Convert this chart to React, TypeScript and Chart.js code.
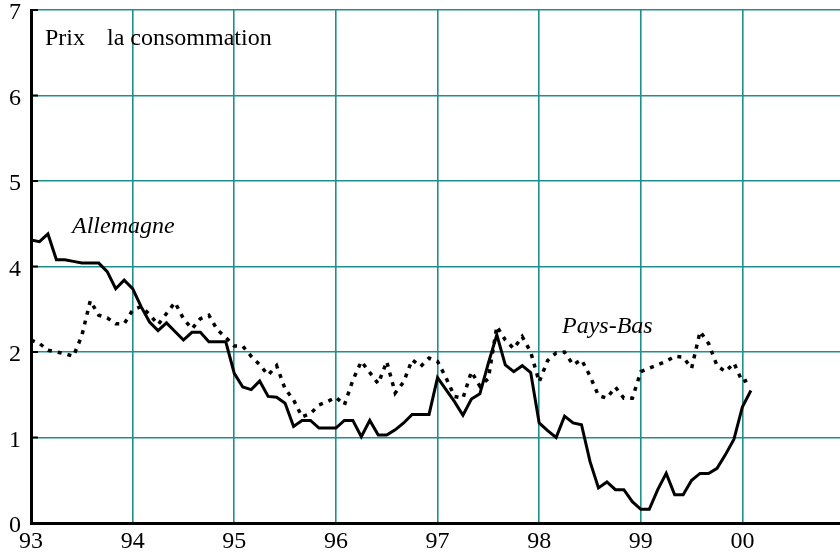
import React, { useEffect, useRef } from "react";
import { Chart, registerables } from "chart.js";

Chart.register(...registerables);

// Monthly series, January 1993 to February 2000 (values on the chart's own vertical grid units)
const startYear = 93;
const allemagne = [
  3.31, 3.29, 3.38, 3.08, 3.08, 3.06, 3.04, 3.04, 3.04, 2.94, 2.74, 2.84,
  2.74, 2.53, 2.35, 2.25, 2.34, 2.24, 2.14, 2.23, 2.23, 2.12, 2.12, 2.12,
  1.75, 1.59, 1.56, 1.66, 1.48, 1.47, 1.40, 1.13, 1.20, 1.20, 1.11, 1.11,
  1.11, 1.20, 1.20, 1.01, 1.20, 1.03, 1.03, 1.09, 1.17, 1.27, 1.27, 1.27,
  1.70, 1.56, 1.42, 1.26, 1.45, 1.51, 1.87, 2.20, 1.85, 1.77, 1.84, 1.76,
  1.17, 1.08, 1.00, 1.25, 1.17, 1.15, 0.72, 0.41, 0.48, 0.39, 0.39, 0.25,
  0.16, 0.16, 0.39, 0.58, 0.33, 0.33, 0.50, 0.58, 0.58, 0.64, 0.80, 0.98,
  1.36, 1.55,
];
const paysBas = [
  2.14, 2.10, 2.02, 2.00, 1.98, 1.95, 2.19, 2.60, 2.43, 2.40, 2.33, 2.33,
  2.49, 2.53, 2.44, 2.32, 2.45, 2.58, 2.39, 2.27, 2.39, 2.43, 2.26, 2.17,
  2.07, 2.07, 1.95, 1.85, 1.73, 1.84, 1.57, 1.44, 1.24, 1.28, 1.38, 1.42,
  1.47, 1.38, 1.67, 1.89, 1.76, 1.63, 1.89, 1.52, 1.65, 1.91, 1.83, 1.93,
  1.89, 1.70, 1.48, 1.46, 1.77, 1.60, 1.69, 2.30, 2.14, 2.04, 2.18, 2.00,
  1.65, 1.90, 1.99, 2.00, 1.85, 1.91, 1.72, 1.49, 1.46, 1.59, 1.46, 1.46,
  1.77, 1.81, 1.85, 1.89, 1.95, 1.94, 1.81, 2.24, 2.10, 1.84, 1.77, 1.87,
  1.65, 1.69,
];
const xTickValues = [93, 94, 95, 96, 97, 98, 99, 100];
const xTickLabels = ["93", "94", "95", "96", "97", "98", "99", "00"];
const yTickLabels = ["0", "1", "2", "4", "5", "6", "7"];
const titleWords = ["Prix", "la consommation"];
const seriesNames = ["Allemagne", "Pays-Bas"];

const TEAL = "#1f8f8b";
const SERIF = "'Liberation Serif', 'Times New Roman', serif";

const annotate = {
  id: "annotate",
  afterDraw(chart: any) {
    const ctx = chart.ctx;
    const y = chart.scales.y;
    const area = chart.chartArea;
    ctx.save();
    // small black inner ticks on the vertical axis
    ctx.strokeStyle = "#000";
    ctx.lineWidth = 2;
    y.ticks.forEach((t: any) => {
      const py = y.getPixelForValue(t.value);
      ctx.beginPath();
      ctx.moveTo(area.left, py);
      ctx.lineTo(area.left + 7, py);
      ctx.stroke();
    });
    ctx.fillStyle = "#000";
    ctx.textBaseline = "alphabetic";
    ctx.textAlign = "left";
    ctx.font = `24px ${SERIF}`;
    ctx.fillText(titleWords[0], 45, 45);
    ctx.fillText(titleWords[1], 107, 45);
    ctx.font = `italic 24px ${SERIF}`;
    ctx.fillText(seriesNames[0], 72, 233);
    ctx.fillText(seriesNames[1], 562, 333);
    ctx.restore();
  },
};

export default function App() {
  const ref = useRef<HTMLCanvasElement | null>(null);
  useEffect(() => {
    if (!ref.current) return;
    const toPts = (arr: number[]) => arr.map((v, i) => ({ x: startYear + i / 12, y: v }));
    const chart = new Chart(ref.current, {
      type: "line",
      data: {
        datasets: [
          {
            label: seriesNames[1],
            data: toPts(paysBas),
            borderColor: "#000",
            borderWidth: 3.5,
            borderDash: [4, 6],
            pointRadius: 0,
            tension: 0,
            fill: false,
          },
          {
            label: seriesNames[0],
            data: toPts(allemagne),
            borderColor: "#000",
            borderWidth: 3,
            pointRadius: 0,
            tension: 0,
            fill: false,
          },
        ],
      },
      options: {
        animation: false,
        responsive: false,
        events: [],
        layout: { padding: { top: 10, right: 0, left: 0, bottom: 0 } },
        plugins: { legend: { display: false }, tooltip: { enabled: false } },
        scales: {
          x: {
            type: "linear",
            min: 93,
            max: 100.96,
            afterBuildTicks: (s: any) => {
              s.ticks = xTickValues.map((v) => ({ value: v }));
            },
            afterFit: (s: any) => {
              s.height = 34;
              s.paddingLeft = 0;
              s.paddingRight = 0;
            },
            grid: { color: TEAL, lineWidth: 1.6, drawTicks: false },
            border: { color: "#000", width: 3 },
            ticks: {
              padding: 4,
              color: "#000",
              font: { family: SERIF, size: 24 },
              maxRotation: 0,
              autoSkip: false,
              callback: (v: any) => {
                const i = xTickValues.indexOf(Number(v));
                return i >= 0 ? xTickLabels[i] : "";
              },
            },
          },
          y: {
            type: "linear",
            min: 0,
            max: 6,
            afterFit: (s: any) => {
              s.width = 31;
              s.paddingTop = 0;
              s.paddingBottom = 0;
            },
            grid: { color: TEAL, lineWidth: 1.6, drawTicks: false },
            border: { color: "#000", width: 3 },
            ticks: {
              stepSize: 1,
              padding: 10,
              labelOffset: 3,
              color: "#000",
              font: { family: SERIF, size: 24 },
              callback: (v: any) => yTickLabels[Number(v)] ?? "",
            },
          },
        },
      },
      plugins: [annotate],
    });
    return () => chart.destroy();
  }, []);
  return (
    <div style={{ position: "fixed", left: 0, top: 0, width: 840, height: 557, background: "#fff" }}>
      <canvas ref={ref} width={840} height={557} style={{ display: "block" }} />
    </div>
  );
}
